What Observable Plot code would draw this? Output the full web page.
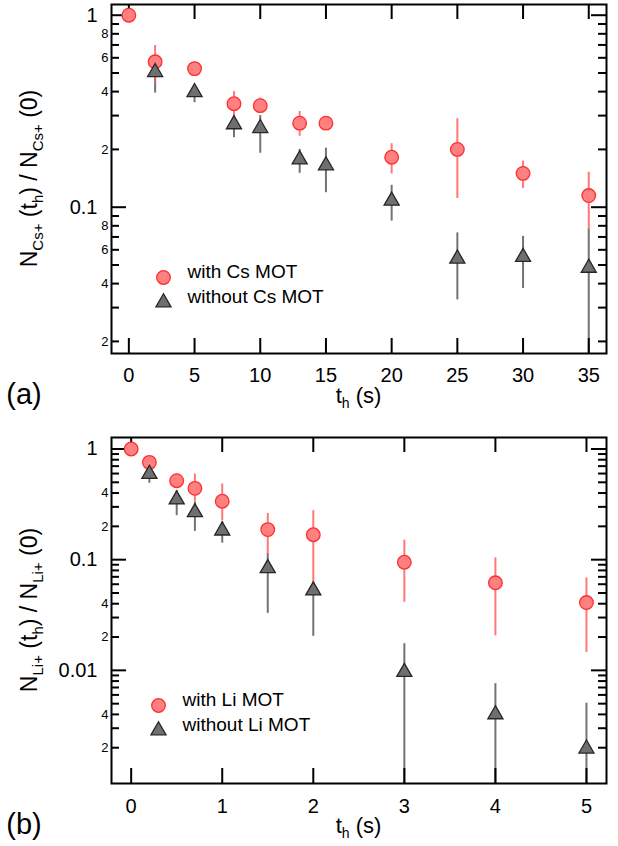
<!DOCTYPE html>
<html><head><meta charset="utf-8">
<script src="https://cdn.jsdelivr.net/npm/d3@7"></script>
<script src="https://cdn.jsdelivr.net/npm/@observablehq/plot@0.6"></script>
<style>
body{margin:0;background:#fff;}
#chart{width:618px;height:846px;position:relative;background:#fff;}
#chart > svg{display:block;}
</style></head><body><div id="chart"></div>
<script>
// ---- Panel (a): Cs+ ----
const tCs        = [0, 2, 5, 8, 10, 13, 15, 20, 25, 30, 35];
const csWith     = [1.0, 0.572, 0.527, 0.346, 0.338, 0.274, 0.274, 0.182, 0.200, 0.150, 0.115];
const csWithLo   = [1.0, 0.446, 0.49, 0.293, 0.31, 0.234, 0.26, 0.149, 0.111, 0.125, 0.076];
const csWithHi   = [1.0, 0.695, 0.57, 0.40, 0.37, 0.315, 0.29, 0.214, 0.289, 0.174, 0.152];
const tCsNo      = [2, 5, 8, 10, 13, 15, 20, 25, 30, 35];
const csNo       = [0.505, 0.397, 0.270, 0.258, 0.177, 0.165, 0.108, 0.0539, 0.055, 0.0483];
const csNoLo     = [0.393, 0.35, 0.230, 0.191, 0.150, 0.119, 0.0847, 0.0329, 0.0377, 0.0001];
const csNoHi     = [0.55, 0.43, 0.30, 0.30, 0.20, 0.203, 0.13, 0.0735, 0.0705, 0.077];
const xTicksA    = [0, 5, 10, 15, 20, 25, 30, 35];
const yMajorA    = [1, 0.1];
const yMajorALab = ["1", "0.1"];
const yMinorA    = [0.9, 0.8, 0.7, 0.6, 0.5, 0.4, 0.3, 0.2, 0.09, 0.08, 0.07, 0.06, 0.05, 0.04, 0.03, 0.02];
const yMinLabA   = [0.8, 0.6, 0.4, 0.2, 0.08, 0.06, 0.04, 0.02];
const yMinLabATx = ["8", "6", "4", "2", "8", "6", "4", "2"];

// ---- Panel (b): Li+ ----
const tLi        = [0, 0.2, 0.5, 0.7, 1, 1.5, 2, 3, 4, 5];
const liWith     = [1.0, 0.757, 0.517, 0.441, 0.337, 0.187, 0.168, 0.0948, 0.0618, 0.041];
const liWithLo   = [1.0, 0.70, 0.45, 0.33, 0.225, 0.11, 0.0585, 0.0412, 0.0205, 0.0145];
const liWithHi   = [1.0, 0.80, 0.595, 0.595, 0.483, 0.262, 0.277, 0.150, 0.104, 0.0683];
const tLiNo      = [0.2, 0.5, 0.7, 1, 1.5, 2, 3, 4, 5];
const liNo       = [0.595, 0.349, 0.268, 0.183, 0.0836, 0.0526, 0.00964, 0.0040, 0.00196];
const liNoLo     = [0.49, 0.25, 0.18, 0.141, 0.0327, 0.0203, 0.0001, 0.0001, 0.0001];
const liNoHi     = [0.65, 0.42, 0.33, 0.22, 0.113, 0.06, 0.0174, 0.00758, 0.00505];
const xTicksB    = [0, 1, 2, 3, 4, 5];
const yMajorB    = [1, 0.1, 0.01];
const yMajorBLab = ["1", "0.1", "0.01"];
const yMinorB    = [0.9,0.8,0.7,0.6,0.5,0.4,0.3,0.2, 0.09,0.08,0.07,0.06,0.05,0.04,0.03,0.02, 0.009,0.008,0.007,0.006,0.005,0.004,0.003,0.002];
const yMinLabB   = [0.4, 0.2, 0.04, 0.02, 0.004, 0.002];
const yMinLabBTx = ["4", "2", "4", "2", "4", "2"];

const FONT = "'Liberation Sans', Arial, Helvetica, sans-serif";
const RED_FILL = "#ff8080", RED_STROKE = "#ff2e2e", RED_BAR = "#ff6060";
const GRAY_FILL = "#6f6f6f", GRAY_STROKE = "#262626", GRAY_BAR = "#5a5a5a";

function rows(t, v, lo, hi) { return t.map((d, i) => ({t: d, v: v[i], lo: lo[i], hi: hi[i]})); }
function labelRows(vals, labs) { return vals.map((d, i) => ({v: d, s: labs[i]})); }

function panel(cfg) {
  const W = 618;
  const withD = rows(cfg.t, cfg.v, cfg.lo, cfg.hi);
  const noD = rows(cfg.tN, cfg.vN, cfg.loN, cfg.hiN);
  const ml = 111, mr = 12;
  const fw = W - ml - mr, fh = cfg.height - cfg.mt - cfg.mb;
  const MAJ = 15, MIN = 8;
  // tick lengths expressed in data units of each scale
  const [x0, x1] = cfg.xd, [y0, y1] = cfg.yd;
  const kx = (x1 - x0) / fw;                  // x units per pixel
  const ky = Math.log10(y1 / y0) / fh;        // decades per pixel
  const tk = {stroke: "#000", strokeWidth: 2};
  const xTickRules = (yFrom, dir) => Plot.ruleX(cfg.xt, {x: d => d, y1: () => yFrom, y2: () => yFrom * Math.pow(10, dir * MAJ * ky), ...tk});
  const yTickRules = (vals, len, xFrom, dir) => Plot.ruleY(vals, {y: d => d, x1: () => xFrom, x2: () => xFrom + dir * len * kx, ...tk});
  const plot = Plot.plot({
    width: W, height: cfg.height,
    marginLeft: ml, marginRight: mr, marginTop: cfg.mt, marginBottom: cfg.mb,
    style: {fontFamily: FONT, color: "#000", background: "#fff", overflow: "visible"},
    x: {domain: cfg.xd, axis: null},
    y: {type: "log", domain: cfg.yd, axis: null},
    marks: [
      // error bars
      Plot.ruleX(noD, {x: "t", y1: "lo", y2: "hi", stroke: GRAY_BAR, strokeWidth: 2, strokeOpacity: 0.85, clip: true}),
      Plot.ruleX(withD.filter(d => d.hi > d.lo), {x: "t", y1: "lo", y2: "hi", stroke: RED_BAR, strokeWidth: 2, strokeOpacity: 0.85, clip: true}),
      // inward ticks on all four sides
      xTickRules(y0, +1),
      xTickRules(y1, -1),
      yTickRules(cfg.yMaj, MAJ, x0, +1),
      yTickRules(cfg.yMaj, MAJ, x1, -1),
      yTickRules(cfg.yMin, MIN, x0, +1),
      yTickRules(cfg.yMin, MIN, x1, -1),
      // markers
      Plot.dot(withD, {x: "t", y: "v", r: 6.8, fill: RED_FILL, stroke: RED_STROKE, strokeWidth: 1.3}),
      Plot.dot(noD, {x: "t", y: "v", r: 5.6, symbol: "triangle", fill: GRAY_FILL, stroke: GRAY_STROKE, strokeWidth: 1.3}),
      // tick labels
      Plot.text(cfg.xt, {x: d => d, frameAnchor: "bottom", dy: cfg.xpad, lineAnchor: "top", text: d => String(d), fontSize: 20, fill: "#000"}),
      Plot.text(labelRows(cfg.yMaj, cfg.yMajLab), {y: "v", text: "s", frameAnchor: "left", dx: -14, textAnchor: "end", fontSize: 20, fill: "#000"}),
      Plot.text(labelRows(cfg.yMinLab, cfg.yMinLabTx), {y: "v", text: "s", frameAnchor: "left", dx: -3, textAnchor: "end", fontSize: 13, fill: "#000"}),
      // frame
      Plot.frame({stroke: "#000", strokeWidth: 2}),
      // legend
      Plot.dot([0], {frameAnchor: "bottom-left", dx: cfg.lgx, dy: cfg.lgy1, r: 6.8, fill: RED_FILL, stroke: RED_STROKE, strokeWidth: 1.3}),
      Plot.dot([0], {frameAnchor: "bottom-left", dx: cfg.lgx, dy: cfg.lgy2, r: 5.6, symbol: "triangle", fill: GRAY_FILL, stroke: GRAY_STROKE, strokeWidth: 1.3}),
      Plot.text([cfg.leg1], {frameAnchor: "bottom-left", dx: cfg.lgx + 24, dy: cfg.lgy1, text: d => d, textAnchor: "start", fontSize: 19, fill: "#000"}),
      Plot.text([cfg.leg2], {frameAnchor: "bottom-left", dx: cfg.lgx + 24, dy: cfg.lgy2, text: d => d, textAnchor: "start", fontSize: 19, fill: "#000"})
    ]
  });
  const svg = d3.select(plot);
  const top = cfg.mt, bot = cfg.height - cfg.mb;
  const cy = (top + bot) / 2, cx = (ml + W - mr) / 2;
  const yt = svg.append("text").attr("transform", `translate(37,${cy}) rotate(-90)`)
    .attr("text-anchor", "middle").attr("font-size", 23).attr("fill", "#000").attr("font-family", FONT);
  yt.append("tspan").text("N");
  yt.append("tspan").attr("font-size", 15).attr("dy", 6).text(cfg.ion);
  yt.append("tspan").attr("dy", -6).text(" (t");
  yt.append("tspan").attr("font-size", 15).attr("dy", 6).text("h");
  yt.append("tspan").attr("dy", -6).text(") / N");
  yt.append("tspan").attr("font-size", 15).attr("dy", 6).text(cfg.ion);
  yt.append("tspan").attr("dy", -6).text(" (0)");
  const xtt = svg.append("text").attr("x", cx).attr("y", bot + 50).attr("text-anchor", "middle")
    .attr("font-size", 22).attr("fill", "#000").attr("font-family", FONT);
  xtt.append("tspan").text("t");
  xtt.append("tspan").attr("font-size", 14).attr("dy", 5).text("h");
  xtt.append("tspan").attr("dy", -5).text(" (s)");
  svg.append("text").attr("x", 24).attr("y", bot + 51).attr("font-size", 29).attr("fill", "#000")
    .attr("font-family", FONT).text(cfg.tag);
  return plot;
}

const chart = document.getElementById("chart");
chart.append(panel({
  height: 415, mt: 4, mb: 62,
  t: tCs, v: csWith, lo: csWithLo, hi: csWithHi,
  tN: tCsNo, vN: csNo, loN: csNoLo, hiN: csNoHi,
  xd: [-1.32, 36.35], yd: [0.0173, 1.137], xt: xTicksA, xpad: 14,
  yMaj: yMajorA, yMajLab: yMajorALab, yMin: yMinorA, yMinLab: yMinLabA, yMinLabTx: yMinLabATx,
  lgx: 52, lgy1: -76, lgy2: -51, leg1: "with Cs MOT", leg2: "without Cs MOT",
  ion: "Cs+", tag: "(a)"
}));
chart.append(panel({
  height: 431, mt: 22, mb: 63,
  t: tLi, v: liWith, lo: liWithLo, hi: liWithHi,
  tN: tLiNo, vN: liNo, loN: liNoLo, hiN: liNoHi,
  xd: [-0.216, 5.22], yd: [0.00095, 1.27], xt: xTicksB, xpad: 15,
  yMaj: yMajorB, yMajLab: yMajorBLab, yMin: yMinorB, yMinLab: yMinLabB, yMinLabTx: yMinLabBTx,
  lgx: 47, lgy1: -78, lgy2: -53, leg1: "with Li MOT", leg2: "without Li MOT",
  ion: "Li+", tag: "(b)"
}));
</script></body></html>
